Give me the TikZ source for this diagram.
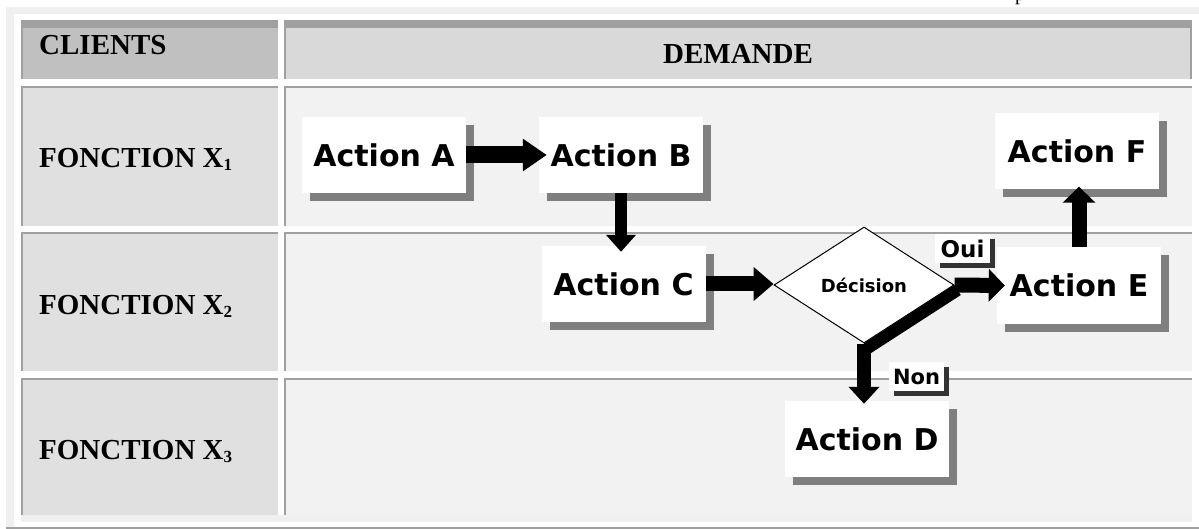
\documentclass[tikz,border=0pt]{standalone}
\usepackage{fontspec}
\setmainfont{Liberation Serif}
\newfontfamily\actionfont{DejaVu Sans}
\usetikzlibrary{arrows.meta,shapes.geometric,shadows}

\definecolor{rimgray}{HTML}{A0A0A0}
\definecolor{bevelgray}{HTML}{F0F0F0}
\definecolor{clientgray}{HTML}{C0C0C0}
\definecolor{demandgray}{HTML}{D9D9D9}
\definecolor{lanegray}{HTML}{E0E0E0}
\definecolor{cellgray}{HTML}{F2F2F2}
\definecolor{shadowgray}{HTML}{7F7F7F}
\definecolor{tagshadow}{HTML}{333333}

\newcommand{\lanesub}[1]{\raisebox{-3pt}{\fontsize{17}{17}\selectfont #1}}

\tikzset{
  lanetext/.style={anchor=base west, inner sep=0pt, font=\bfseries\fontsize{29}{32}\selectfont},
  action/.style={fill=white, minimum width=164pt, minimum height=76pt, inner sep=0pt,
    font=\actionfont\bfseries\fontsize{30}{36}\selectfont,
    drop shadow={shadow xshift=8pt, shadow yshift=-8pt, fill=shadowgray, opacity=1}},
  decision/.style={diamond, draw=black, line width=1pt, fill=white, minimum width=180pt,
    minimum height=116pt, inner sep=0pt, font=\actionfont\bfseries\fontsize{18}{21}\selectfont},
  tag/.style={fill=white, minimum width=55pt, minimum height=29pt, inner sep=0pt,
    font=\actionfont\bfseries\fontsize{21}{24}\selectfont,
    drop shadow={shadow xshift=5pt, shadow yshift=-5pt, fill=tagshadow, opacity=1}},
  flow/.style={line width=15pt, -{Triangle[length=16pt,width=32pt]}}
}

\begin{document}
\begin{tikzpicture}[x=1pt,y=-1pt]
\useasboundingbox (0,0) rectangle (1199,529);
\fill[white] (0,0) rectangle (1199,529);
% outer frame
\fill[bevelgray] (6,7) rectangle (1199,14);
\fill[bevelgray] (6,7) rectangle (14,527);
\fill[rimgray] (6,527) rectangle (1199,529);
\node[anchor=base west, inner sep=0pt, font=\fontsize{20}{20}\selectfont] (pfrag) at (1015,1) {p};
% header row
\fill[rimgray] (21,20) rectangle (278,79);
\fill[clientgray] (23,28) rectangle (278,79);
\fill[rimgray] (284,20) rectangle (1192,79);
\fill[demandgray] (286,28) rectangle (1190,79);
% lanes
\foreach \ya/\yb in {86/226,232/371,378/515}{
  \fill[rimgray] (21,\ya) rectangle (278,\yb);
  \fill[lanegray] (23,\ya+2) rectangle (278,\yb);
  \fill[rimgray] (284,\ya) rectangle (1192,\yb);
  \fill[cellgray] (286,\ya+2) rectangle (1192,\yb);
}
\fill[bevelgray] (21,515) rectangle (1192,522);

\node[lanetext] (clients) at (39,55) {CLIENTS};
\node[lanetext, anchor=base] (demande) at (738,64) {DEMANDE};
\node[lanetext] (lane1) at (39,168) {FONCTION X\lanesub{1}};
\node[lanetext] (lane2) at (39,314) {FONCTION X\lanesub{2}};
\node[lanetext] (lane3) at (39,459) {FONCTION X\lanesub{3}};

% actions
\node[action] (a) at (384,155) {Action A};
\node[action] (b) at (621,155) {Action B};
\node[action] (c) at (623.5,284) {Action C};
\node[action] (d) at (867,439) {Action D};
\node[action] (e) at (1079,285.5) {Action E};
\node[action] (f) at (1077,151.5) {Action F};
\node[decision] (dec) at (864,285) {Décision};

% connectors
\draw[flow, line width=17pt, -{Triangle[length=24pt,width=31pt]}] (a.east) -- ([xshift=8pt]b.west);
\draw[flow, line width=12pt, -{Triangle[length=17pt,width=29pt]}, shorten >=-6pt] (b.south) -- (b.south |- c.north);
\draw[flow, -{Triangle[length=20pt,width=33pt]}] (c.east) -- (c.east -| dec.west);
\draw[flow] (dec.east) -- ([xshift=8pt]e.west);
\draw[flow, shorten >=-3pt] (e.north) -- (e.north |- f.south);
\draw[line width=12pt] ([shift={(3,5)}]dec.east) -- ([shift={(3,5)}]dec.south);
\draw[flow, line width=14pt, -{Triangle[length=17pt,width=30pt]}, shorten >=-3pt] (dec.south) -- (dec.south |- d.north);

\node[tag, font=\actionfont\bfseries\fontsize{23}{26}\selectfont] (oui) at (962.5,248.5) {Oui};
\node[tag] (non) at (916.5,376.5) {Non};
\end{tikzpicture}
\end{document}
